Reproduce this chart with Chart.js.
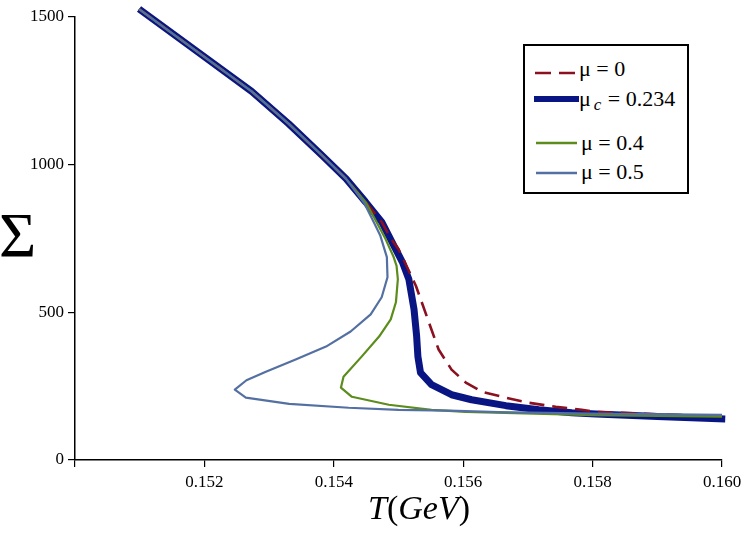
<!DOCTYPE html>
<html lang="en">
<head>
    <meta charset="UTF-8">
    <title>Sigma vs T</title>
    <script src="https://cdn.jsdelivr.net/npm/chart.js"></script>
    <style>
        html, body { margin: 0; padding: 0; background: #fff; }
        .wrap { position: relative; width: 747px; height: 535px; font-family: 'Liberation Serif', 'DejaVu Serif', serif; }
        #sigmaChart { position: absolute; left: 0; top: 0; }
        .y-title { position: absolute; left: -1px; top: 204px; font-size: 64px; line-height: 64px; }
        .x-title { position: absolute; left: 368px; top: 488px; font-size: 34px; line-height: 40px; white-space: nowrap; }
        .legend { position: absolute; left: 523px; top: 44px; width: 162px; height: 146px; border: 2px solid #000; background: #fff; }
        .legend svg { position: absolute; left: 0; top: 0; }
        .legend .txt { position: absolute; font-family: 'Liberation Serif', serif; font-size: 22px; line-height: 22px; white-space: nowrap; }
        .legend sub { font-size: 17px; font-style: italic; position: relative; top: 4px; vertical-align: baseline; margin-left: 3px; margin-right: 1px; }
    </style>
</head>
<body>
    <div class="wrap">
        <canvas id="sigmaChart" width="747" height="535"></canvas>
        <div class="y-title">&Sigma;</div>
        <div class="x-title"><i>T</i>(<i>GeV</i>)</div>

        <!-- Legend -->
        <div class="legend">
            <svg width="162" height="146">
                <line x1="10" y1="27" x2="54" y2="27" stroke="#8b1020" stroke-width="2.5" stroke-dasharray="16,8"></line>
                <line x1="9" y1="53" x2="54" y2="53" stroke="#0a1584" stroke-width="6"></line>
                <line x1="11" y1="97" x2="52" y2="97" stroke="#5b8c1c" stroke-width="2.5"></line>
                <line x1="11" y1="127" x2="52" y2="127" stroke="#5470a2" stroke-width="2.5"></line>
            </svg>
            <div class="txt" style="left:54px; top:12px;">&mu; = 0</div>
            <div class="txt" style="left:54px; top:42px;">&mu;<sub>c</sub> = 0.234</div>
            <div class="txt" style="left:56px; top:86px;">&mu; = 0.4</div>
            <div class="txt" style="left:56px; top:115px;">&mu; = 0.5</div>
        </div>
    </div>

    <script>
        // mu = 0 (dashed)
        const tMu0 = [0.15099, 0.15192, 0.15273, 0.15330, 0.15382, 0.15419, 0.15449, 0.15474, 0.15488, 0.15500,
                      0.15514, 0.15527, 0.15547, 0.15562, 0.15582, 0.15604, 0.15629, 0.15666, 0.15701, 0.15743,
                      0.15783, 0.15805, 0.15900, 0.16000];
        const sMu0 = [1527, 1378, 1248, 1139, 1031, 952, 874, 806, 750, 714,
                      650, 589, 466, 374, 306, 262, 231, 211, 194, 180,
                      170, 163, 155, 148];

        // mu_c = 0.234 (thick)
        const tMuC = [0.15099, 0.15192, 0.15273, 0.15330, 0.15382, 0.15419, 0.15449, 0.15474, 0.15490, 0.15506,
                      0.15516, 0.15524, 0.15528, 0.15530, 0.15534, 0.15551, 0.15582, 0.15613, 0.15666, 0.15717,
                      0.15768, 0.15805, 0.15900, 0.16005];
        const sMuC = [1527, 1378, 1248, 1139, 1031, 952, 874, 806, 738, 670,
                      612, 510, 420, 350, 296, 255, 221, 204, 184, 170,
                      160, 156, 147, 139];

        // mu = 0.4
        const tMu04 = [0.15099, 0.15192, 0.15273, 0.15330, 0.15382, 0.15419, 0.15449, 0.15466, 0.15480, 0.15492,
                       0.15497, 0.15499, 0.15496, 0.15488, 0.15470, 0.15443, 0.15415, 0.15411, 0.15428, 0.15485,
                       0.15551, 0.15604, 0.15800, 0.16000];
        const sMu04 = [1527, 1378, 1248, 1139, 1031, 952, 874, 806, 748, 690,
                       657, 612, 534, 476, 418, 350, 282, 245, 214, 187,
                       170, 163, 152, 147];

        // mu = 0.5
        const tMu05 = [0.15099, 0.15192, 0.15273, 0.15330, 0.15382, 0.15419, 0.15447, 0.15463, 0.15472, 0.15482,
                       0.15483, 0.15474, 0.15457, 0.15426, 0.15388, 0.15341, 0.15295, 0.15265, 0.15247, 0.15264,
                       0.15331, 0.15423, 0.15500, 0.15578, 0.15655, 0.15800, 0.16000];
        const sMu05 = [1527, 1378, 1248, 1139, 1031, 952, 870, 800, 759, 687,
                       619, 551, 493, 435, 384, 340, 299, 270, 238, 211,
                       190, 177, 170, 167, 162, 157, 153];

        const xTicks = [0.150, 0.152, 0.154, 0.156, 0.158, 0.160];
        const yTicks = [0, 500, 1000, 1500];

        function toPoints(ts, ss) {
            return ts.map((t, i) => ({ x: t, y: ss[i] }));
        }

        const serif = "'Liberation Serif', 'DejaVu Serif', serif";

        const ctx = document.getElementById('sigmaChart').getContext('2d');
        const sigmaChart = new Chart(ctx, {
            type: 'scatter',
            data: {
                datasets: [
                    {
                        label: 'mu = 0.5',
                        data: toPoints(tMu05, sMu05),
                        borderColor: '#5470a2',
                        borderWidth: 2.2,
                        order: 0
                    },
                    {
                        label: 'mu = 0.4',
                        data: toPoints(tMu04, sMu04),
                        borderColor: '#5b8c1c',
                        borderWidth: 2.2,
                        order: 1
                    },
                    {
                        label: 'mu = 0',
                        data: toPoints(tMu0, sMu0),
                        borderColor: '#8b1020',
                        borderWidth: 2.6,
                        borderDash: [15, 8],
                        order: 2
                    },
                    {
                        label: 'mu_c = 0.234',
                        data: toPoints(tMuC, sMuC),
                        borderColor: '#0a1584',
                        borderWidth: 7,
                        order: 3
                    }
                ].map(ds => Object.assign(ds, {
                    showLine: true,
                    pointRadius: 0,
                    pointHoverRadius: 0,
                    tension: 0,
                    fill: false,
                    clip: false,
                    borderJoinStyle: 'round'
                }))
            },
            options: {
                responsive: false,
                animation: false,
                events: [],
                layout: { padding: { left: 0, top: 17, right: 25, bottom: 0 } },
                plugins: {
                    legend: { display: false },
                    tooltip: { enabled: false }
                },
                scales: {
                    x: {
                        type: 'linear',
                        min: 0.150,
                        max: 0.160,
                        afterFit: scale => { scale.height = 75; },
                        afterBuildTicks: scale => { scale.ticks = xTicks.map(v => ({ value: v })); },
                        border: { display: true, color: '#000', width: 1.5 },
                        grid: { drawOnChartArea: false, drawTicks: true, tickLength: 7, color: '#000', lineWidth: 1.2 },
                        ticks: {
                            color: '#000',
                            padding: 5,
                            maxRotation: 0,
                            font: { family: serif, size: 17 },
                            callback: v => (v < 0.151 ? '' : v.toFixed(3))
                        }
                    },
                    y: {
                        type: 'linear',
                        min: 0,
                        max: 1500,
                        afterFit: scale => { scale.width = 75; },
                        afterBuildTicks: scale => { scale.ticks = yTicks.map(v => ({ value: v })); },
                        border: { display: true, color: '#000', width: 1.5 },
                        grid: { drawOnChartArea: false, drawTicks: true, tickLength: 7, color: '#000', lineWidth: 1.2 },
                        ticks: {
                            color: '#000',
                            padding: 4,
                            font: { family: serif, size: 17 },
                            callback: v => String(v)
                        }
                    }
                }
            }
        });
    </script>
</body>
</html>
